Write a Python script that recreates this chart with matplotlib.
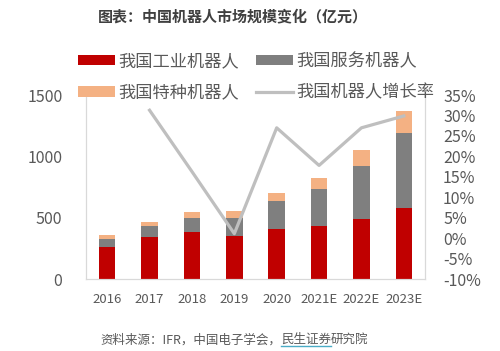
import numpy as np
import matplotlib
matplotlib.use("Agg")
import matplotlib.pyplot as plt
from matplotlib.lines import Line2D

plt.rcParams['font.family'] = ['Noto Sans CJK SC', 'DejaVu Sans']

# data (亿元)
years = ['2016', '2017', '2018', '2019', '2020', '2021E', '2022E', '2023E']
industrial = [261, 342, 380, 348, 410, 435, 489, 581]
service = [62, 90, 114, 149, 223, 303, 437, 606]
special = [33, 35, 49, 54, 67, 90, 128, 185]
growth_years = years[1:]
growth = [31.3, 16.3, 1.1, 27.0, 17.8, 27.0, 29.9]

red = '#C00000'
gray = '#7F7F7F'
orange = '#F4B183'
line_c = '#BFBFBF'
txt = '#595959'

fig = plt.figure(figsize=(5, 3.51), dpi=100)
ax = fig.add_axes([0.172, 0.205, 0.678, 0.524])
x = np.arange(len(years))
w = 0.39
ind = np.array(industrial)
srv = np.array(service)
b1 = ax.bar(x, ind, w, color=red, zorder=2)
b2 = ax.bar(x, srv, w, bottom=ind, color=gray, zorder=2)
b3 = ax.bar(x, special, w, bottom=ind + srv, color=orange, zorder=2)
ax.set_xlim(-0.5, len(years) - 0.5)
ax.set_ylim(0, 1500)
ax.set_yticks([0, 500, 1000, 1500])
ax.set_xticks(x)
ax.set_xticklabels(years)
ax.tick_params(axis='y', length=0, labelsize=11.5, labelcolor=txt, pad=17)
ax.tick_params(axis='x', length=0, labelsize=9.5, labelcolor=txt, pad=10)

ax2 = ax.twinx()
gx = [years.index(g) for g in growth_years]
ln, = ax2.plot(gx, growth, color=line_c, lw=2.3, zorder=3)
ax2.set_ylim(-10, 35)
ax2.set_yticks(range(-10, 36, 5))
ax2.set_yticklabels([f'{v}%' for v in range(-10, 36, 5)])
ax2.tick_params(axis='y', length=0, labelsize=11.5, labelcolor=txt, pad=13)

for a in (ax, ax2):
    a.spines['top'].set_visible(False)
    for s in ('left', 'right', 'bottom'):
        a.spines[s].set_color('#D9D9D9')

handles = [b1, b3, b2, ln]
labels = ['我国工业机器人', '我国特种机器人', '我国服务机器人', '我国机器人增长率']
fig.legend(handles, labels, ncol=2, loc='upper left', bbox_to_anchor=(0.155, 0.852),
           frameon=False, fontsize=12.4, labelcolor=txt, handlelength=2.15,
           handleheight=0.55, handletextpad=0.2, columnspacing=1.0,
           labelspacing=0.8, borderpad=0, borderaxespad=0)

fig.text(0.465, 0.953, '图表：中国机器人市场规模变化（亿元）', ha='center', va='center',
         fontsize=10.8, fontweight='bold', color='#404040')

src = fig.text(0.2, 0.032, '资料来源：IFR，中国电子学会，', ha='left', va='center',
               fontsize=9, color=txt)
fig.canvas.draw()
r = fig.canvas.get_renderer()
bb = src.get_window_extent(r)
x0 = bb.x1 / fig.bbox.width
t2 = fig.text(x0, 0.032, '民生证券', ha='left', va='center', fontsize=9, color=txt)
fig.canvas.draw()
bb2 = t2.get_window_extent(r)
x1 = bb2.x1 / fig.bbox.width
fig.text(x1, 0.032, '研究院', ha='left', va='center', fontsize=9, color=txt)
yl = bb2.y0 / fig.bbox.height
fig.add_artist(Line2D([x0, x1], [yl, yl], color='#4BACC6', lw=1.0))

fig.savefig('out.png', dpi=100)
